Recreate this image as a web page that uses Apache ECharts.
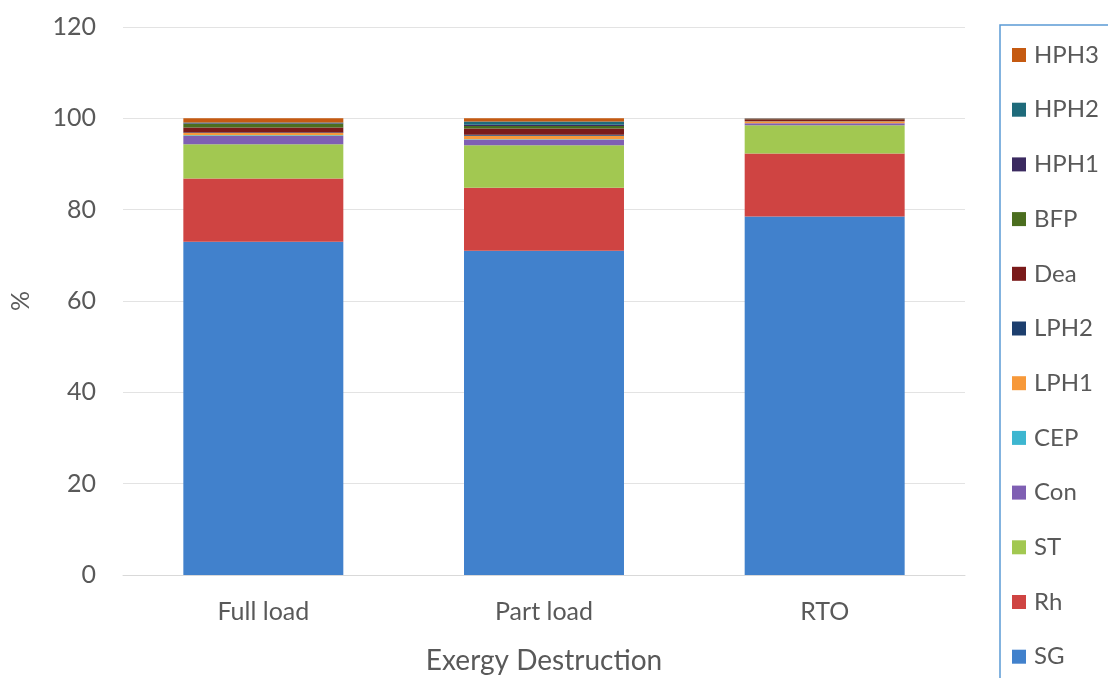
<!DOCTYPE html>
<html>
<head>
<meta charset="utf-8">
<script src="https://cdn.jsdelivr.net/npm/echarts@6/dist/echarts.min.js"></script>
<style>
  html, body { margin: 0; padding: 0; background: #fff; }
  #chart { width: 1108px; height: 678px; }
</style>
</head>
<body>
<div id="chart"></div>
<script>
// Exergy destruction share (%) by component for each operating mode
const categories = ['Full load', 'Part load', 'RTO'];
const yTicks = [0, 20, 40, 60, 80, 100, 120];

const SG   = [73.0, 71.0, 78.5];
const Rh   = [13.8, 13.8, 13.8];
const ST   = [7.5, 9.3, 6.2];
const Con  = [1.85, 1.2, 0.4];
const CEP  = [0.15, 0.1, 0.05];
const LPH1 = [0.5, 0.8, 0.4];
const LPH2 = [0.1, 0.2, 0.05];
const Dea  = [1.1, 1.4, 0.4];
const BFP  = [0.8, 0.5, 0.05];
const HPH1 = [0.1, 0.3, 0.05];
const HPH2 = [0.2, 0.7, 0.05];
const HPH3 = [0.9, 0.7, 0.05];

const seriesDefs = [
  { name: 'SG',   data: SG,   color: '#4181cc' },
  { name: 'Rh',   data: Rh,   color: '#cf4442' },
  { name: 'ST',   data: ST,   color: '#a2c851' },
  { name: 'Con',  data: Con,  color: '#7f5fb3' },
  { name: 'CEP',  data: CEP,  color: '#3db6d0' },
  { name: 'LPH1', data: LPH1, color: '#f7993a' },
  { name: 'LPH2', data: LPH2, color: '#1d3f6e' },
  { name: 'Dea',  data: Dea,  color: '#7a1a1a' },
  { name: 'BFP',  data: BFP,  color: '#4b6e1f' },
  { name: 'HPH1', data: HPH1, color: '#3b2a60' },
  { name: 'HPH2', data: HPH2, color: '#1f6b7b' },
  { name: 'HPH3', data: HPH3, color: '#c55a11' }
];

const font = 'Lato, "Open Sans", sans-serif';
const textColor = '#595959';

const chart = echarts.init(document.getElementById('chart'));
chart.setOption({
  animation: false,
  textStyle: { fontFamily: font },
  grid: {
    left: 123, right: 143, top: 27, bottom: 103,
    containLabel: false, outerBoundsMode: 'none'
  },
  legend: {
    orient: 'vertical',
    left: 1000,
    top: 25,
    height: 900,
    data: seriesDefs.map(s => s.name).reverse(),
    icon: 'rect',
    itemWidth: 14,
    itemHeight: 14,
    itemGap: 30.7,
    borderColor: '#5b9bd5',
    borderWidth: 1.5,
    borderRadius: 0,
    padding: [18, 60, 30, 12],
    textStyle: {
      fontSize: 24, color: textColor, fontFamily: font, lineHeight: 24,
      padding: [0, 0, 0, 3]
    }
  },
  xAxis: {
    type: 'category',
    data: categories,
    name: 'Exergy Destruction',
    nameLocation: 'middle',
    nameGap: 72,
    nameTextStyle: { fontSize: 28, color: textColor, fontFamily: font },
    axisLine: { lineStyle: { color: '#d9d9d9', width: 1 } },
    axisTick: { show: false },
    axisLabel: { fontSize: 25, color: textColor, margin: 24, fontFamily: font }
  },
  yAxis: {
    type: 'value',
    min: yTicks[0],
    max: yTicks[yTicks.length - 1],
    interval: 20,
    name: '%',
    nameLocation: 'middle',
    nameGap: 90,
    nameRotate: 90,
    nameTextStyle: { fontSize: 25, color: textColor, fontFamily: font },
    axisLine: { show: false },
    axisTick: { show: false },
    axisLabel: { fontSize: 25, color: textColor, margin: 27, fontFamily: font },
    splitLine: { lineStyle: { color: '#e3e3e3', width: 1 } }
  },
  series: seriesDefs.map(s => ({
    name: s.name,
    type: 'bar',
    stack: 'total',
    barWidth: '57%',
    data: s.data,
    itemStyle: { color: s.color },
    emphasis: { disabled: true }
  }))
});
</script>
</body>
</html>
